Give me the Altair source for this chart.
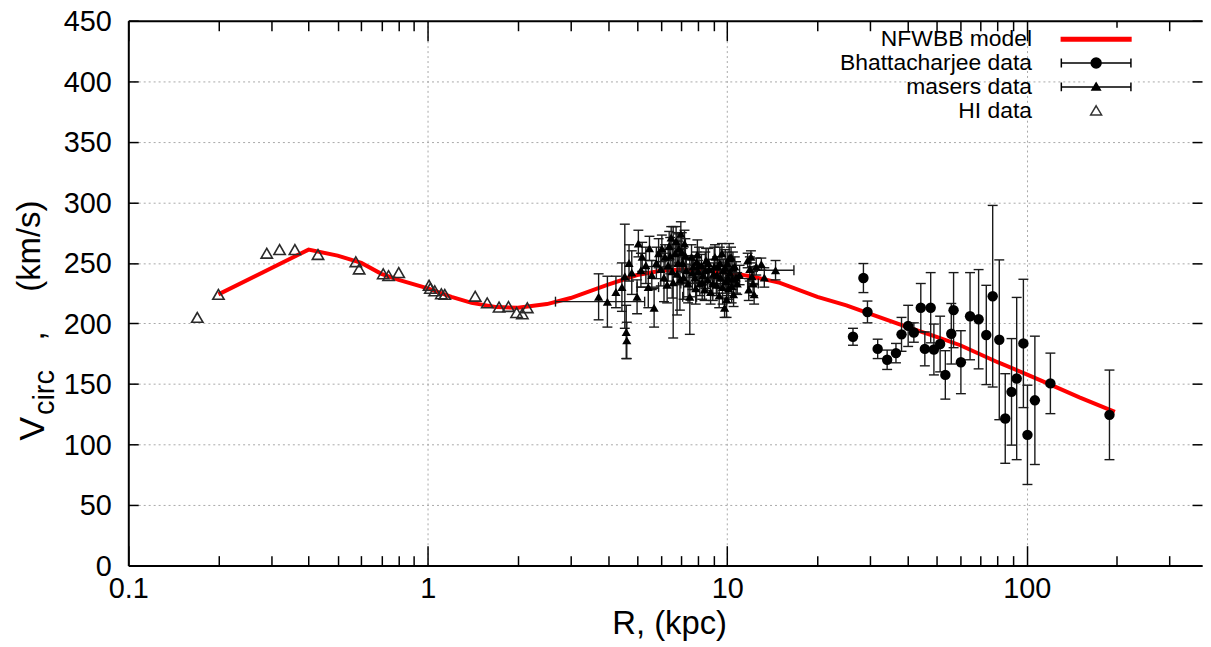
import altair as alt
import pandas as pd

FONT = "Liberation Sans"

# ---------------- data ----------------
model_r = [0.2, 0.4, 0.5, 0.6, 0.7, 0.8, 1.0, 1.2, 1.4, 1.7, 2.0, 2.5, 3.0, 4.0, 5.0, 6.0,
           7.0, 8.0, 10, 12, 15, 20, 25, 30, 40, 50, 60, 80, 100, 120, 150, 197]
model_v = [224, 261, 256, 250, 241, 236, 229, 222, 217, 213.5, 213, 216, 221, 232, 240, 243.5,
           244.5, 244, 242, 239, 233.5, 222, 215, 208, 197, 189, 182, 168, 158, 149.5, 139, 127]

hi_r = [0.17, 0.2, 0.29, 0.32, 0.36, 0.43, 0.575, 0.59, 0.71, 0.74, 0.80, 1.01, 1.02, 1.055,
        1.11, 1.14, 1.44, 1.58, 1.73, 1.86, 1.98, 2.07, 2.15]
hi_v = [205, 224, 258, 261, 261, 257, 251, 245, 241, 239.5, 242, 231.5, 229, 227, 224.5, 224,
        222.5, 217, 213.5, 214, 209, 208, 213]

bh_r = [26.3, 28.5, 29.4, 31.8, 34.2, 36.6, 38.2, 40.2, 42.0, 44.3, 45.7, 47.8, 49.0, 51.4,
        53.5, 56.0, 57.0, 60.3, 64.7, 69.1, 73.3, 77.0, 81.0, 84.8, 89.0, 92.6, 97.5, 100.6,
        106.5, 120.0, 189.0]
bh_v = [189, 237.5, 209.5, 179, 170, 175.5, 191, 198, 192.5, 213, 179, 213, 178.5, 183, 157.5,
        191.5, 211, 168, 206, 203.5, 190.5, 222.5, 186.5, 121.5, 143.5, 154.5, 183.5, 108,
        136.5, 150.5, 124.5]
bh_err = [7, 12, 9, 8, 8, 8, 14, 17, 8, 20, 14, 29, 21, 23, 20, 25, 31, 26, 36, 41, 41, 75, 66,
          37, 44, 67, 53, 41, 53, 25, 37]

ms_r = [3.72, 3.98, 4.25, 4.45, 4.55, 4.6, 4.62, 4.7, 4.8, 5.0, 5.05, 5.2, 5.35, 5.5, 5.6, 5.7,
        5.9, 6.0, 6.2, 6.3, 6.4, 6.5, 6.6, 6.7, 6.8, 6.9, 7.0, 7.1, 7.2, 7.3, 7.5, 7.6, 7.7, 7.8,
        7.9, 8.0, 8.1, 8.2, 8.3, 8.4, 8.5, 8.6, 8.7, 8.8, 9.0, 9.1, 9.2, 9.3, 9.4, 9.5, 9.6, 9.7,
        9.8, 9.9, 10.0, 10.1, 10.2, 10.3, 10.4, 10.5, 10.6, 10.8, 11.0, 11.7, 11.8, 12.0, 12.1,
        12.3, 12.5, 13.0, 13.3, 14.5,
        5.15, 5.45, 5.8, 6.05, 6.15, 6.35, 6.45, 6.55, 6.75, 6.85, 6.95, 7.05, 7.15, 7.25, 7.4,
        7.65, 7.85, 7.95, 8.05, 8.25, 8.45, 8.65, 8.95, 9.05, 9.25, 9.45, 9.65, 9.85, 9.95,
        10.05, 10.15, 10.35, 10.45, 10.7, 11.9, 12.2]
ms_v = [222, 218, 226, 230, 239, 193, 186, 250, 242, 222, 266, 255, 248, 262, 240, 213, 258, 245,
        255, 232, 264, 271, 234, 258, 241, 262, 274, 250, 266, 244, 222, 255, 247, 238, 251, 243,
        233, 248, 240, 228, 252, 236, 245, 226, 241, 255, 232, 247, 223, 238, 258, 244, 213, 235,
        250, 229, 242, 255, 237, 224, 247, 233, 240, 252, 228, 255, 239, 224, 247, 249, 238, 244,
        244, 230, 250, 262, 238, 248, 256, 243, 268, 250, 236, 259, 238, 256, 233,
        242, 229, 257, 248, 234, 244, 250, 233, 247, 240, 250, 230, 246, 220,
        238, 254, 231, 246, 238, 245, 233]
ms_err = [19, 21, 13, 20, 43, 22, 15, 15, 18, 14, 11, 12, 15, 10, 12, 16, 12, 14, 10, 15, 12, 9,
          46, 10, 34, 12, 10, 12, 11, 10, 31, 10, 9, 10, 8, 9, 10, 9, 8, 9, 10, 9, 8, 10, 9, 10,
          9, 8, 10, 9, 8, 9, 8, 10, 9, 9, 10, 8, 9, 10, 8, 9, 8, 6, 9, 5, 8, 8, 7, 5, 8, 8,
          14, 17, 13, 11, 20, 13, 15, 22, 12, 18, 25, 16, 18, 14, 16,
          14, 13, 12, 15, 14, 15, 12, 14, 16, 15, 13, 14, 15, 15,
          15, 12, 14, 13, 13, 10, 10]

# masers that also carry a radial (horizontal) error bar
msx_r = [3.98, 7.5, 14.5, 12.2, 5.45, 7.4]
msx_v = [218, 222, 244, 233, 230, 233]
msx_lo = [2.67, 7.1, 12.3, 11.7, 5.0, 7.0]
msx_hi = [5.3, 7.9, 16.7, 12.7, 5.9, 7.8]

x_major = [0.1, 1, 10, 100]
x_minor = [0.2, 0.3, 0.4, 0.5, 0.6, 0.7, 0.8, 0.9, 2, 3, 4, 5, 6, 7, 8, 9,
           20, 30, 40, 50, 60, 70, 80, 90, 200, 300]
y_ticks = [0, 50, 100, 150, 200, 250, 300, 350, 400, 450]
y_grid = [50, 100, 150, 200, 250, 300, 350, 400]
x_grid = [1, 10, 100]

series_names = ["NFWBB model", "Bhattacharjee data", "masers data", "HI data"]
legend_fill = ["#ff0000", "#000000", "#000000", "transparent"]
legend_stroke = ["#ff0000", "#000000", "#000000", "#333333"]
legend_paths = [
    "M-3.5,-0.18L3.5,-0.18L3.5,0.18L-3.5,0.18Z",
    "M-3.5,0L3.5,0M-3.5,-0.45L-3.5,0.45M3.5,-0.45L3.5,0.45"
    "M0.5,0A0.5,0.5,0,1,1,-0.5,0A0.5,0.5,0,1,1,0.5,0Z",
    "M-3.5,0L3.5,0M-3.5,-0.45L-3.5,0.45M3.5,-0.45L3.5,0.45M0,-0.4L0.42,0.3L-0.42,0.3Z",
    "M0,-0.5L0.55,0.42L-0.55,0.42Z",
]

# ---------------- tables ----------------
model = pd.DataFrame({"r": model_r, "v": model_v})
hi = pd.DataFrame({"r": hi_r, "v": hi_v})
bh = pd.DataFrame({"r": bh_r, "v": bh_v, "e": bh_err})
bh["lo"] = bh["v"] - bh["e"]
bh["hi"] = bh["v"] + bh["e"]
bh_caps = pd.concat([
    pd.DataFrame({"r": bh["r"], "v": bh["lo"]}),
    pd.DataFrame({"r": bh["r"], "v": bh["hi"]}),
], ignore_index=True)

ms = pd.DataFrame({"r": ms_r, "v": ms_v, "e": ms_err})
ms["lo"] = ms["v"] - ms["e"]
ms["hi"] = ms["v"] + ms["e"]
ms_caps = pd.concat([
    pd.DataFrame({"r": ms["r"], "v": ms["lo"]}),
    pd.DataFrame({"r": ms["r"], "v": ms["hi"]}),
], ignore_index=True)
msx = pd.DataFrame({"r": msx_r, "v": msx_v, "rlo": msx_lo, "rhi": msx_hi})
msx_caps = pd.concat([
    pd.DataFrame({"r": msx["rlo"], "v": msx["v"]}),
    pd.DataFrame({"r": msx["rhi"], "v": msx["v"]}),
], ignore_index=True)
legend_df = pd.DataFrame({"series": series_names})

# ---------------- scales / axes ----------------
xs = alt.Scale(type="log", domain=[0.1, 385], nice=False)
ys = alt.Scale(domain=[0, 450], nice=False)

GRID = "#a8a8a8"


def axis(**kw):
    base = dict(grid=False, ticks=False, labels=False, domain=False, title=None)
    base.update(kw)
    return alt.Axis(**base)


tick_style = dict(ticks=True, tickColor="black", tickWidth=1.5)
title_style = dict(titleFont=FONT, titleFontWeight="normal", titleColor="black")
vtitle = dict(titleAngle=270, titleAlign="left", titleBaseline="alphabetic", **title_style)

ax_x_grid = axis(orient="bottom", values=x_grid, grid=True, gridDash=[2, 3], gridColor=GRID,
                 gridWidth=1, domain=True, domainColor="black", domainWidth=2,
                 title="R, (kpc)", titleFontSize=33, titleX=544, titleY=68,
                 titleAlign="center", titleBaseline="alphabetic", **title_style)
ax_x_major = axis(orient="bottom", values=x_major, tickSize=20, offset=-20, labels=True,
                  labelFont=FONT, labelFontSize=29, labelColor="black", labelPadding=9,
                  labelFlush=False, labelOverlap=False, format="~g", **tick_style)
ax_x_minor = axis(orient="bottom", values=x_minor, tickSize=10, offset=-10, **tick_style)
ax_x_topdom = axis(orient="top", domain=True, domainColor="black", domainWidth=2)
ax_x_topmaj = axis(orient="top", values=x_major, tickSize=20, offset=-20, **tick_style)
ax_x_topmin = axis(orient="top", values=x_minor, tickSize=10, offset=-10, **tick_style)

ax_y_grid = axis(orient="left", values=y_grid, grid=True, gridDash=[2, 3], gridColor=GRID,
                 gridWidth=1, domain=True, domainColor="black", domainWidth=2,
                 title="V", titleFontSize=36, titleX=-85, titleY=422, **vtitle)
ax_y_major = axis(orient="left", values=y_ticks, tickSize=10, offset=-10, labels=True,
                  labelFont=FONT, labelFontSize=29, labelColor="black", labelPadding=17,
                  labelBaseline="alphabetic", labelOffset=10,
                  labelOverlap=False, format="d", **tick_style)
ax_y_right = axis(orient="right", values=y_ticks, tickSize=10, offset=-10, **tick_style)
ax_y_circ = axis(orient="left", title="circ", titleFontSize=29, titleX=-75, titleY=396, **vtitle)
ax_y_comma = axis(orient="left", title=",", titleFontSize=33, titleX=-85, titleY=321, **vtitle)
ax_y_km = axis(orient="left", title="(km/s)", titleFontSize=33, titleX=-89, titleY=272, **vtitle)


def X(field, ax):
    return alt.X(f"{field}:Q", scale=xs, axis=ax)


def Y(field, ax):
    return alt.Y(f"{field}:Q", scale=ys, axis=ax)


BAR = "#1a1a1a"

line = alt.Chart(model).mark_line(color="#ff0000", strokeWidth=4).encode(
    x=X("r", ax_x_grid), y=Y("v", ax_y_grid))

hi_pts = alt.Chart(hi).mark_point(shape="triangle-up", size=130, filled=False, stroke="#2a2a2a",
                                  strokeWidth=1.6, opacity=1).encode(
    x=X("r", ax_x_major), y=Y("v", ax_y_major))

bh_bars = alt.Chart(bh).mark_rule(color=BAR, strokeWidth=1.4).encode(
    x=X("r", ax_x_minor), y=Y("lo", ax_y_right), y2="hi")
bh_cap = alt.Chart(bh_caps).mark_tick(orient="horizontal", size=10, thickness=1.4, color=BAR,
                                      opacity=1).encode(
    x=X("r", ax_x_topdom), y=Y("v", ax_y_circ))
bh_pts = alt.Chart(bh).mark_point(shape="circle", size=110, filled=True, color="black",
                                  opacity=1).encode(
    x=X("r", ax_x_topmaj), y=Y("v", ax_y_km))

ms_bars = alt.Chart(ms).mark_rule(color=BAR, strokeWidth=1.4).encode(
    x=X("r", ax_x_topmin), y=Y("lo", ax_y_comma), y2="hi")
ms_cap = alt.Chart(ms_caps).mark_tick(orient="horizontal", size=10, thickness=1.4, color=BAR,
                                      opacity=1).encode(
    x=X("r", None), y=Y("v", None))
ms_hbars = alt.Chart(msx).mark_rule(color=BAR, strokeWidth=1.4).encode(
    x=X("rlo", None), x2="rhi", y=Y("v", None))
ms_hcap = alt.Chart(msx_caps).mark_tick(orient="vertical", size=10, thickness=1.4, color=BAR,
                                        opacity=1).encode(
    x=X("r", None), y=Y("v", None))
ms_pts = alt.Chart(ms).mark_point(shape="triangle-up", size=85, filled=True, color="black",
                                  opacity=1).encode(
    x=X("r", None), y=Y("v", None))

leg = alt.Legend(title=None, orient="none", legendX=962, legendY=7, direction="vertical",
                 labelFont=FONT, labelFontSize=23, labelColor="black", labelLimit=400,
                 labelAlign="right", labelOffset={"expr": "-76"}, symbolSize=400,
                 symbolStrokeWidth=1.5, rowPadding=0, padding=0,
                 fillColor="white")

legend_layer = alt.Chart(legend_df).mark_point(filled=True, opacity=1).encode(
    fill=alt.Fill("series:N", scale=alt.Scale(domain=series_names, range=legend_fill), legend=leg),
    stroke=alt.Stroke("series:N", scale=alt.Scale(domain=series_names, range=legend_stroke),
                      legend=leg),
    shape=alt.Shape("series:N", scale=alt.Scale(domain=series_names, range=legend_paths),
                    legend=leg),
).transform_filter("false")

chart = alt.layer(
    line, hi_pts, bh_bars, bh_cap, bh_pts, ms_bars, ms_cap, ms_hbars, ms_hcap, ms_pts,
    legend_layer,
).resolve_axis(x="independent", y="independent").properties(
    width=1080, height=548,
    padding={"left": 121, "top": 11, "right": 1, "bottom": 76},
    autosize=alt.AutoSizeParams(type="none"),
    background="white",
).configure_view(stroke=None)

chart.save("out.html", embed_options={"renderer": "svg", "actions": False})
